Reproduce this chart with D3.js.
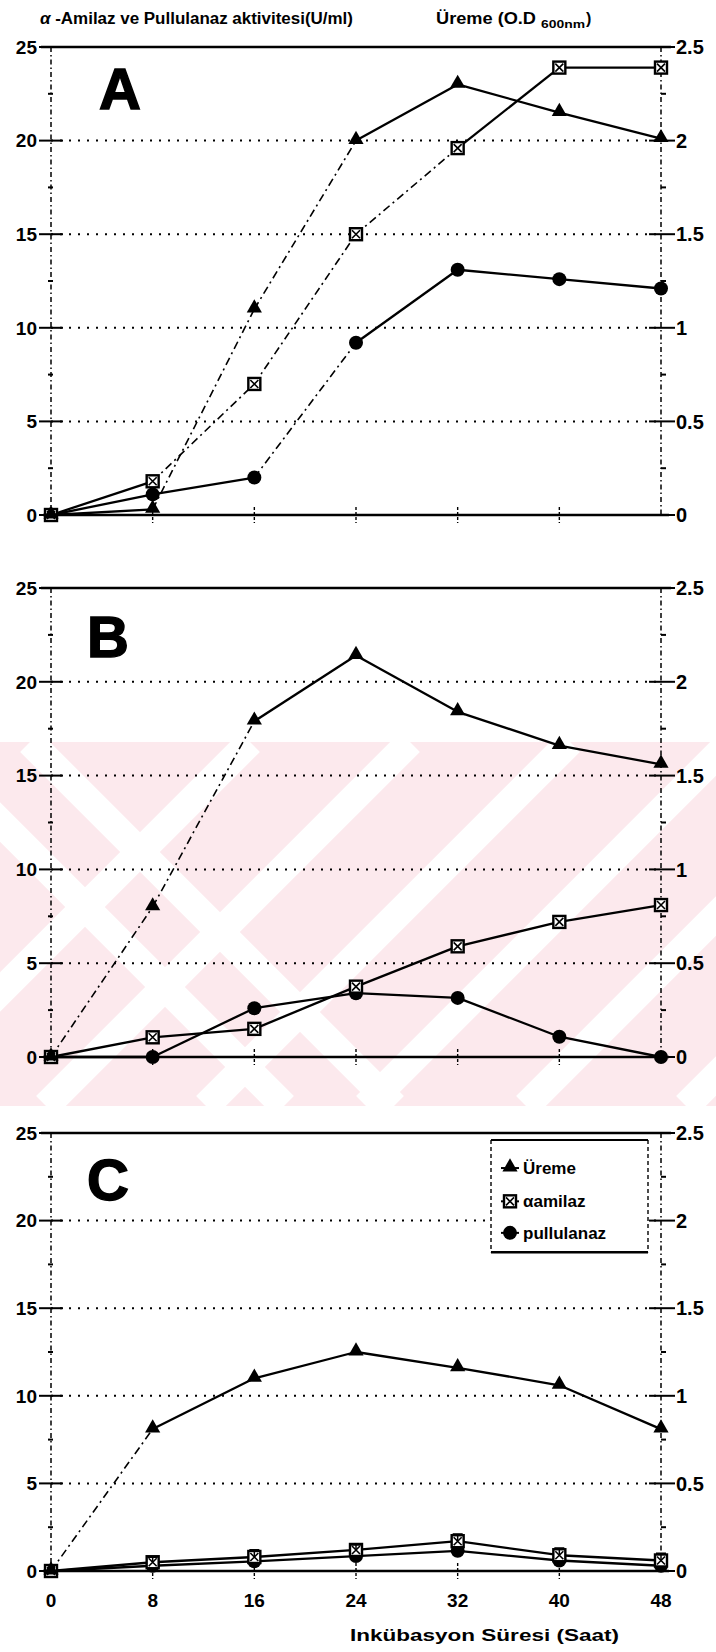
<!DOCTYPE html>
<html>
<head>
<meta charset="utf-8">
<script src="https://cdn.jsdelivr.net/npm/d3@7"></script>
<style>
  body { margin: 0; background: #fff; }
  svg text { font-family: "Liberation Sans", Arial, sans-serif; font-weight: bold; fill: #000; }
</style>
</head>
<body>
<div class="container"></div>
<script>
// incubation hours
var hours = [0, 8, 16, 24, 32, 40, 48];

// panel A
var uremeA = [0, 0.03, 1.1, 2.0, 2.3, 2.15, 2.01];
var amilazA = [0, 1.8, 7.0, 15.0, 19.6, 23.9, 23.9];
var pullulanazA = [0, 1.1, 2.0, 9.2, 13.1, 12.6, 12.1];

// panel B
var uremeB = [0, 0.8, 1.79, 2.14, 1.84, 1.66, 1.56];
var amilazB = [0, 1.05, 1.5, 3.75, 5.9, 7.2, 8.1];
var pullulanazB = [0, 0, 2.6, 3.4, 3.15, 1.08, 0];

// panel C
var uremeC = [0, 0.81, 1.1, 1.25, 1.16, 1.06, 0.81];
var amilazC = [0, 0.5, 0.8, 1.2, 1.7, 0.9, 0.6];
var amilazErrC = [0, 0.3, 0.4, 0.3, 0.4, 0.4, 0.4];
var pullulanazC = [0, 0.3, 0.55, 0.85, 1.15, 0.6, 0.3];

var leftTicks = [0, 5, 10, 15, 20, 25];
var rightTicks = [0, 0.5, 1, 1.5, 2, 2.5];
var legendLabels = ['Üreme', 'αamilaz', 'pullulanaz'];

var svg = d3.select('.container').append('svg')
  .attr('width', 716)
  .attr('height', 1652);

// pink watermark band behind panel B
var wm = svg.append('g');
wm.append('clipPath').attr('id', 'wmclip')
  .append('rect').attr('x', 0).attr('y', 742).attr('width', 716).attr('height', 364);
var wmg = wm.append('g').attr('clip-path', 'url(#wmclip)');
wmg.append('rect').attr('x', 0).attr('y', 742).attr('width', 716).attr('height', 364).attr('fill', '#fce9ed');
[-80, 30].forEach(function(o){
  wmg.append('line').attr('x1', o).attr('y1', 742).attr('x2', o + 364).attr('y2', 1106)
    .attr('stroke', '#fff').attr('stroke-width', 28);
});
[250, 410, 570, 730, 890, 1050].forEach(function(o){
  wmg.append('line').attr('x1', o).attr('y1', 742).attr('x2', o - 364).attr('y2', 1106)
    .attr('stroke', '#fff').attr('stroke-width', 28);
});

var x = d3.scaleLinear().domain([0, 48]).range([51, 661]);

var panels = [
  {name: 'A', top: 47, bottom: 515, letterDx: 48, letterDy: 62, ureme: uremeA, amilaz: amilazA, pull: pullulanazA},
  {name: 'B', top: 588, bottom: 1057, letterDx: 36, letterDy: 69, ureme: uremeB, amilaz: amilazB, pull: pullulanazB},
  {name: 'C', top: 1133, bottom: 1571, letterDx: 36, letterDy: 67, ureme: uremeC, amilaz: amilazC, pull: pullulanazC, err: amilazErrC}
];

// header
var head = svg.append('text').attr('x', 40).attr('y', 24).style('font-size', '16px')
  .attr('textLength', 313).attr('lengthAdjust', 'spacingAndGlyphs');
head.append('tspan').style('font-style', 'italic').text('α');
head.append('tspan').text(' -Amilaz ve Pullulanaz aktivitesi(U/ml)');
var head2 = svg.append('g');
head2.append('text').attr('x', 436).attr('y', 24).style('font-size', '16px')
  .attr('textLength', 100).attr('lengthAdjust', 'spacingAndGlyphs').text('Üreme (O.D');
head2.append('text').attr('x', 541).attr('y', 28).style('font-size', '11px')
  .attr('textLength', 44).attr('lengthAdjust', 'spacingAndGlyphs').text('600nm');
head2.append('text').attr('x', 586).attr('y', 24).style('font-size', '16px').text(')');

var drawSeries = function(g, vals, yS, kind){
  var pts = vals.map(function(v, i){ return [x(hours[i]), yS(v)]; });
  d3.pairs(pts).forEach(function(p){
    var dx = p[1][0] - p[0][0], dy = p[1][1] - p[0][1];
    var steep = Math.abs(dy) > 0.83 * dx;
    g.append('line')
      .attr('x1', p[0][0]).attr('y1', p[0][1])
      .attr('x2', p[1][0]).attr('y2', p[1][1])
      .attr('stroke', '#000')
      .attr('stroke-width', steep ? 1.6 : 2.3)
      .attr('stroke-dasharray', steep ? '8,4,2,4' : null);
  });
  pts.forEach(function(p){ drawMarker(g, p[0], p[1], kind); });
};

var drawMarker = function(g, cx, cy, kind){
  if (kind === 'tri') {
    g.append('path').attr('d', d3.symbol(d3.symbolTriangle).size(100)())
      .attr('transform', 'translate(' + cx + ',' + (cy - 1) + ')').attr('fill', '#000');
  } else if (kind === 'sq') {
    g.append('rect').attr('x', cx - 6).attr('y', cy - 6).attr('width', 12).attr('height', 12)
      .attr('fill', '#fff').attr('stroke', '#000').attr('stroke-width', 2.4);
    g.append('path').attr('d', 'M' + (cx - 4) + ',' + (cy - 4) + 'L' + (cx + 4) + ',' + (cy + 4) +
      'M' + (cx + 4) + ',' + (cy - 4) + 'L' + (cx - 4) + ',' + (cy + 4))
      .attr('stroke', '#000').attr('stroke-width', 1.6);
  } else {
    g.append('circle').attr('cx', cx).attr('cy', cy).attr('r', 7).attr('fill', '#000');
  }
};

panels.forEach(function(p){
  var g = svg.append('g');
  var yL = d3.scaleLinear().domain([0, 25]).range([p.bottom, p.top]);
  var yR = d3.scaleLinear().domain([0, 2.5]).range([p.bottom, p.top]);

  // dotted grid
  g.selectAll('.grid').data([5, 10, 15, 20]).enter().append('line')
    .attr('x1', x(0)).attr('x2', x(48))
    .attr('y1', function(d){ return yL(d); }).attr('y2', function(d){ return yL(d); })
    .attr('stroke', '#000').attr('stroke-width', 2).attr('stroke-dasharray', '2,7');

  // vertical axes, dash-dot
  [0, 48].forEach(function(h){
    g.append('line').attr('x1', x(h)).attr('x2', x(h)).attr('y1', p.top).attr('y2', p.bottom)
      .attr('stroke', '#000').attr('stroke-width', 1.5).attr('stroke-dasharray', '5,3,1.5,3');
  });

  // top and bottom lines
  g.append('line').attr('x1', x(0) - 10).attr('x2', x(48) + 10).attr('y1', yL(25)).attr('y2', yL(25))
    .attr('stroke', '#000').attr('stroke-width', 2.5);
  g.append('line').attr('x1', x(0) - 8).attr('x2', x(48) + 8).attr('y1', yL(0)).attr('y2', yL(0))
    .attr('stroke', '#000').attr('stroke-width', 2.5);

  // left ticks and labels
  g.selectAll('.lt').data(leftTicks).enter().append('line')
    .attr('x1', x(0) - 12).attr('x2', x(0) + 12)
    .attr('y1', function(d){ return yL(d); }).attr('y2', function(d){ return yL(d); })
    .attr('stroke', '#000').attr('stroke-width', 2);
  g.selectAll('.lm').data(d3.range(2.5, 25, 5)).enter().append('line')
    .attr('x1', x(0) - 3).attr('x2', x(0) + 2)
    .attr('y1', function(d){ return yL(d); }).attr('y2', function(d){ return yL(d); })
    .attr('stroke', '#000').attr('stroke-width', 2);
  g.selectAll('.ll').data(leftTicks).enter().append('text')
    .attr('x', x(0) - 14).attr('y', function(d){ return yL(d); }).attr('dy', '0.36em')
    .attr('text-anchor', 'end').style('font-size', '19px')
    .text(function(d){ return d; });

  // right ticks and labels
  g.selectAll('.rt').data(rightTicks).enter().append('line')
    .attr('x1', x(48) - 12).attr('x2', x(48) + 14)
    .attr('y1', function(d){ return yR(d); }).attr('y2', function(d){ return yR(d); })
    .attr('stroke', '#000').attr('stroke-width', 2);
  g.selectAll('.rm').data(d3.range(0.25, 2.5, 0.5)).enter().append('line')
    .attr('x1', x(48)).attr('x2', x(48) + 5)
    .attr('y1', function(d){ return yR(d); }).attr('y2', function(d){ return yR(d); })
    .attr('stroke', '#000').attr('stroke-width', 2);
  g.selectAll('.rl').data(rightTicks).enter().append('text')
    .attr('x', x(48) + 15).attr('y', function(d){ return yR(d); }).attr('dy', '0.36em')
    .style('font-size', '20px')
    .text(function(d){ return d; });

  // x ticks
  g.selectAll('.xt').data(hours.slice(1, 6)).enter().append('line')
    .attr('x1', function(d){ return x(d); }).attr('x2', function(d){ return x(d); })
    .attr('y1', p.bottom - 8).attr('y2', p.bottom + 8)
    .attr('stroke', '#000').attr('stroke-width', 1.4).attr('stroke-dasharray', '3,2');

  // panel letter
  g.append('text').attr('x', x(0) + p.letterDx).attr('y', p.top + p.letterDy)
    .style('font-size', '58px').style('font-weight', '900')
    .attr('stroke', '#000').attr('stroke-width', 1.5)
    .text(p.name);

  // series
  drawSeries(g, p.pull, yL, 'circ');
  drawSeries(g, p.amilaz, yL, 'sq');
  drawSeries(g, p.ureme, yR, 'tri');

  if (p.err) {
    p.amilaz.forEach(function(v, i){
      if (!p.err[i]) return;
      var cx = x(hours[i]);
      g.append('line').attr('x1', cx).attr('x2', cx).attr('y1', yL(v)).attr('y2', yL(v + p.err[i]))
        .attr('stroke', '#000').attr('stroke-width', 1.5);
      g.append('line').attr('x1', cx - 5).attr('x2', cx + 5).attr('y1', yL(v + p.err[i])).attr('y2', yL(v + p.err[i]))
        .attr('stroke', '#000').attr('stroke-width', 2);
    });
  }

  if (p.name === 'C') {
    // x labels
    g.selectAll('.xl').data(hours).enter().append('text')
      .attr('x', function(d){ return x(d); }).attr('y', p.bottom + 36)
      .attr('text-anchor', 'middle').style('font-size', '19px')
      .text(function(d){ return d; });
    g.append('text').attr('x', 350).attr('y', p.bottom + 70).style('font-size', '17px')
      .attr('textLength', 269).attr('lengthAdjust', 'spacingAndGlyphs')
      .text('Inkübasyon Süresi (Saat)');

    // legend box
    var lx0 = 491, lx1 = 648, ly0 = yL(24.6), ly1 = yL(18.2);
    var lg = g.append('g');
    lg.append('rect').attr('x', lx0).attr('y', ly0).attr('width', lx1 - lx0).attr('height', ly1 - ly0).attr('fill', '#fff');
    lg.append('line').attr('x1', lx0).attr('x2', lx1).attr('y1', ly0).attr('y2', ly0).attr('stroke', '#000').attr('stroke-width', 1.8);
    lg.append('line').attr('x1', lx0).attr('x2', lx1).attr('y1', ly1).attr('y2', ly1).attr('stroke', '#000').attr('stroke-width', 2.5);
    [lx0, lx1].forEach(function(lx){
      lg.append('line').attr('x1', lx).attr('x2', lx).attr('y1', ly0).attr('y2', ly1)
        .attr('stroke', '#000').attr('stroke-width', 1.4).attr('stroke-dasharray', '4,3');
    });
    var kinds = ['tri', 'sq', 'circ'];
    var legendVals = [23.0, 21.1, 19.3];
    legendLabels.forEach(function(t, i){
      var ly = yL(legendVals[i]);
      lg.append('line').attr('x1', lx0 + 10).attr('x2', lx0 + 28).attr('y1', ly).attr('y2', ly)
        .attr('stroke', '#000').attr('stroke-width', 2);
      drawMarker(lg, lx0 + 19, ly, kinds[i]);
      lg.append('text').attr('x', lx0 + 32).attr('y', ly).attr('dy', '0.36em')
        .style('font-size', '17px').text(t);
    });
  }
});
</script>
</body>
</html>
